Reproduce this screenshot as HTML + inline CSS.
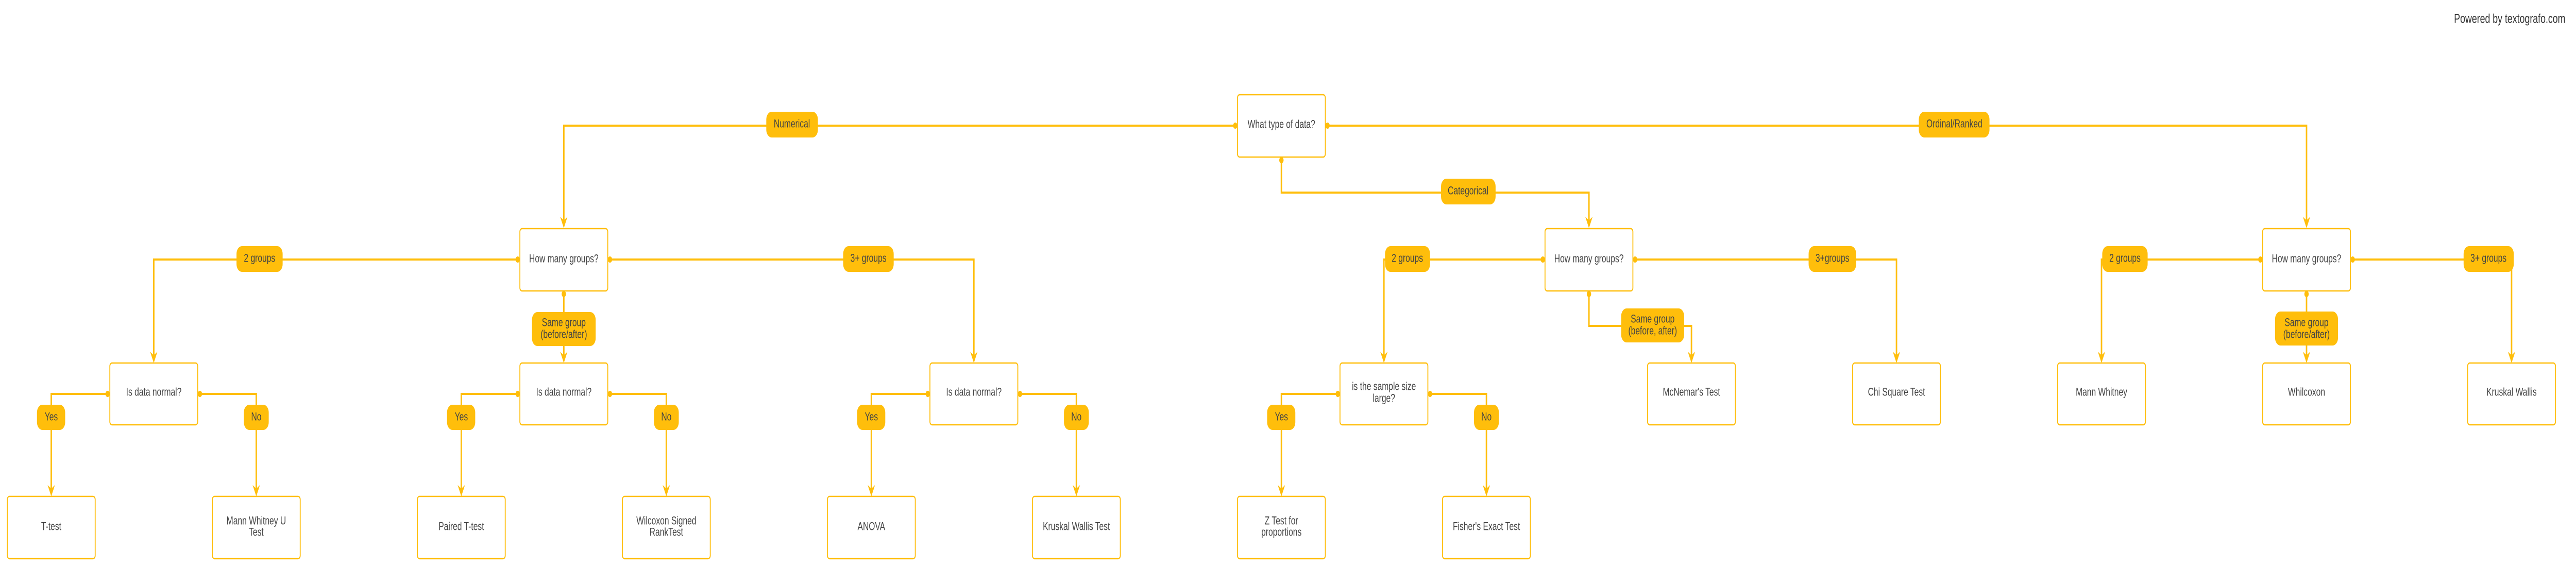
<!DOCTYPE html>
<html><head><meta charset="utf-8"><style>
html,body{margin:0;padding:0;background:#fff;width:100%;height:100%;overflow:hidden;}
svg{display:block;position:absolute;left:0;top:0;width:100vw;height:100vh;}
text{font-family:"Liberation Sans",Arial,sans-serif;font-size:22px;fill:#444;text-anchor:middle;dominant-baseline:central;}
.b{fill:#fff;stroke:#FFBE0B;stroke-width:2.5;}
.c{fill:none;stroke:#FFBE0B;stroke-width:4;}
.p{fill:#FFBE0B;}
.d{fill:#FFBE0B;}
</style></head><body>
<svg viewBox="0 0 7036 1140" preserveAspectRatio="none" xmlns="http://www.w3.org/2000/svg">
<defs>
<polygon id="ar" points="-10,-22 0,-15 10,-22 0,0" fill="#FFBE0B"/>
</defs>
<text x="6855" y="36" style="font-size:25px;fill:#333">Powered by textografo.com</text>

<g class="c">
<path d="M3374 244 H1540 V428"/>
<path d="M3626 244 H6300 V428"/>
<path d="M3500 311 V374 H4340 V428"/>
<path d="M1414 504 H420 V690"/>
<path d="M1666 504 H2660 V690"/>
<path d="M1540 571 V690"/>
<path d="M4214 504 H3780 V690"/>
<path d="M4466 504 H5180 V690"/>
<path d="M4340 571 V633 H4620 V690"/>
<path d="M6174 504 H5740 V690"/>
<path d="M6426 504 H6860 V690"/>
<path d="M6300 571 V690"/>
<path d="M294 765 H140 V949"/><path d="M546 765 H700 V949"/>
<path d="M1414 765 H1260 V949"/><path d="M1666 765 H1820 V949"/>
<path d="M2534 765 H2380 V949"/><path d="M2786 765 H2940 V949"/>
<path d="M3654 765 H3500 V949"/><path d="M3906 765 H4060 V949"/>
</g>
<g class="d">
<circle cx="3374" cy="244" r="6"/><circle cx="3626" cy="244" r="6"/><circle cx="3500" cy="311" r="6"/>
<circle cx="1414" cy="504" r="6"/><circle cx="1666" cy="504" r="6"/><circle cx="1540" cy="571" r="6"/>
<circle cx="4214" cy="504" r="6"/><circle cx="4466" cy="504" r="6"/><circle cx="4340" cy="571" r="6"/>
<circle cx="6174" cy="504" r="6"/><circle cx="6426" cy="504" r="6"/><circle cx="6300" cy="571" r="6"/>
<circle cx="294" cy="765" r="6"/><circle cx="546" cy="765" r="6"/>
<circle cx="1414" cy="765" r="6"/><circle cx="1666" cy="765" r="6"/>
<circle cx="2534" cy="765" r="6"/><circle cx="2786" cy="765" r="6"/>
<circle cx="3654" cy="765" r="6"/><circle cx="3906" cy="765" r="6"/>
</g>
<use href="#ar" x="1540" y="443"/><use href="#ar" x="6300" y="443"/><use href="#ar" x="4340" y="443"/>
<use href="#ar" x="420" y="705"/><use href="#ar" x="2660" y="705"/><use href="#ar" x="1540" y="705"/>
<use href="#ar" x="3780" y="705"/><use href="#ar" x="5180" y="705"/><use href="#ar" x="4620" y="705"/>
<use href="#ar" x="5740" y="705"/><use href="#ar" x="6860" y="705"/><use href="#ar" x="6300" y="705"/>
<use href="#ar" x="140" y="964"/><use href="#ar" x="700" y="964"/>
<use href="#ar" x="1260" y="964"/><use href="#ar" x="1820" y="964"/>
<use href="#ar" x="2380" y="964"/><use href="#ar" x="2940" y="964"/>
<use href="#ar" x="3500" y="964"/><use href="#ar" x="4060" y="964"/>

<g class="b">
<rect x="3380" y="184" width="240" height="121" rx="6"/>
<rect x="1420" y="444" width="240" height="121" rx="6"/>
<rect x="4220" y="444" width="240" height="121" rx="6"/>
<rect x="6180" y="444" width="240" height="121" rx="6"/>
<rect x="300" y="705" width="240" height="120" rx="6"/>
<rect x="1420" y="705" width="240" height="120" rx="6"/>
<rect x="2540" y="705" width="240" height="120" rx="6"/>
<rect x="3660" y="705" width="240" height="120" rx="6"/>
<rect x="4500" y="705" width="240" height="120" rx="6"/>
<rect x="5060" y="705" width="240" height="120" rx="6"/>
<rect x="5620" y="705" width="240" height="120" rx="6"/>
<rect x="6180" y="705" width="240" height="120" rx="6"/>
<rect x="6740" y="705" width="240" height="120" rx="6"/>
<rect x="20" y="964" width="240" height="121" rx="6"/>
<rect x="580" y="964" width="240" height="121" rx="6"/>
<rect x="1140" y="964" width="240" height="121" rx="6"/>
<rect x="1700" y="964" width="240" height="121" rx="6"/>
<rect x="2260" y="964" width="240" height="121" rx="6"/>
<rect x="2820" y="964" width="240" height="121" rx="6"/>
<rect x="3380" y="964" width="240" height="121" rx="6"/>
<rect x="3940" y="964" width="240" height="121" rx="6"/>
</g>
<text x="3500" y="242">What type of data?</text>
<text x="1540" y="503">How many groups?</text>
<text x="4340" y="503">How many groups?</text>
<text x="6300" y="503">How many groups?</text>
<text x="420" y="762">Is data normal?</text>
<text x="1540" y="762">Is data normal?</text>
<text x="2660" y="762">Is data normal?</text>
<text x="3780" y="751">is the sample size</text>
<text x="3780" y="774">large?</text>
<text x="4620" y="762">McNemar's Test</text>
<text x="5180" y="762">Chi Square Test</text>
<text x="5740" y="762">Mann Whitney</text>
<text x="6300" y="762">Whilcoxon</text>
<text x="6860" y="762">Kruskal Wallis</text>
<text x="140" y="1023">T-test</text>
<text x="700" y="1012">Mann Whitney U</text>
<text x="700" y="1034">Test</text>
<text x="1260" y="1023">Paired T-test</text>
<text x="1820" y="1012">Wilcoxon Signed</text>
<text x="1820" y="1034">RankTest</text>
<text x="2380" y="1023">ANOVA</text>
<text x="2940" y="1023">Kruskal Wallis Test</text>
<text x="3500" y="1012">Z Test for</text>
<text x="3500" y="1034">proportions</text>
<text x="4060" y="1023">Fisher's Exact Test</text>

<g class="p">
<rect x="2093" y="217" width="141" height="50" rx="15"/>
<rect x="5241" y="217" width="193" height="50" rx="15"/>
<rect x="3936" y="347" width="149" height="50" rx="15"/>
<rect x="646" y="478" width="126" height="50" rx="15"/>
<rect x="2303" y="478" width="138" height="50" rx="15"/>
<rect x="1453" y="606" width="174" height="66" rx="15"/>
<rect x="3783" y="478" width="123" height="50" rx="15"/>
<rect x="4940" y="478" width="130" height="50" rx="15"/>
<rect x="4428" y="599" width="172" height="66" rx="15"/>
<rect x="5742" y="478" width="124" height="50" rx="15"/>
<rect x="6729" y="478" width="137" height="50" rx="15"/>
<rect x="6214" y="605" width="172" height="66" rx="15"/>
<rect x="101" y="786" width="77" height="49" rx="15"/><rect x="666" y="786" width="68" height="49" rx="15"/>
<rect x="1221" y="786" width="77" height="49" rx="15"/><rect x="1786" y="786" width="68" height="49" rx="15"/>
<rect x="2341" y="786" width="77" height="49" rx="15"/><rect x="2906" y="786" width="68" height="49" rx="15"/>
<rect x="3461" y="786" width="77" height="49" rx="15"/><rect x="4026" y="786" width="68" height="49" rx="15"/>
</g>
<text x="2163" y="241">Numerical</text>
<text x="5338" y="241">Ordinal/Ranked</text>
<text x="4010" y="371">Categorical</text>
<text x="709" y="502">2 groups</text>
<text x="2372" y="502">3+ groups</text>
<text x="1540" y="627">Same group</text>
<text x="1540" y="650">(before/after)</text>
<text x="3844" y="502">2 groups</text>
<text x="5005" y="502">3+groups</text>
<text x="4514" y="620">Same group</text>
<text x="4514" y="643">(before, after)</text>
<text x="5804" y="502">2 groups</text>
<text x="6797" y="502">3+ groups</text>
<text x="6300" y="627">Same group</text>
<text x="6300" y="650">(before/after)</text>
<text x="140" y="810">Yes</text><text x="700" y="810">No</text>
<text x="1260" y="810">Yes</text><text x="1820" y="810">No</text>
<text x="2380" y="810">Yes</text><text x="2940" y="810">No</text>
<text x="3500" y="810">Yes</text><text x="4060" y="810">No</text>
</svg>
</body></html>
